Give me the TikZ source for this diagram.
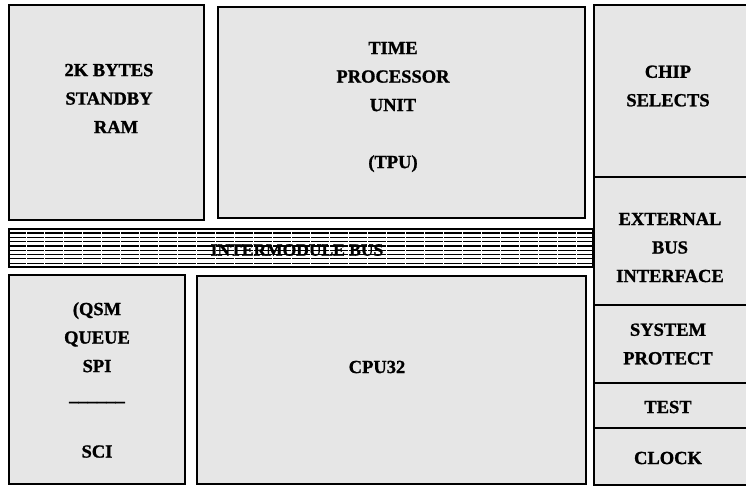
\documentclass[tikz,border=0pt]{standalone}
\usepackage{fontspec}
\setmainfont{Liberation Serif}[BoldFont={Liberation Serif Bold},BoldFeatures={FakeBold=1.2}]
\usepackage{tikz}
\usetikzlibrary{positioning}
\usetikzlibrary{calc}

\definecolor{blkgray}{RGB}{230,230,230}

\tikzset{
  blk/.style={draw=black,line width=2pt,fill=blkgray,inner sep=0pt},
  lbl/.style={align=center,inner sep=0pt,
    font=\bfseries\fontsize{18.5}{28.5}\selectfont}
}

\begin{document}
\begin{tikzpicture}[x=1pt,y=-1pt]
          \useasboundingbox (0,0) rectangle (746,487);
          % blocks
          \node[blk,minimum width=195pt,minimum height=215pt] (ram) at (106.5,112.5) {};
          \node[blk,minimum width=367pt,minimum height=211pt] (tpu) at (401.5,112.5) {};
          \node[blk,minimum width=160pt,minimum height=172pt] (csel) at (674,91) {};
          \node[blk,minimum width=160pt,minimum height=128pt] (ebi) at (674,241) {};
          \node[blk,minimum width=160pt,minimum height=78pt] (sysp) at (674,344) {};
          \node[blk,minimum width=160pt,minimum height=45pt] (tst) at (674,405.5) {};
          \node[blk,minimum width=160pt,minimum height=57pt] (clk) at (674,456.5) {};
          \node[blk,minimum width=176pt,minimum height=209pt] (qsm) at (97,379.5) {};
          \node[blk,minimum width=389pt,minimum height=208pt] (cpu) at (391.5,380) {};
          % bus
          \node[blk,fill=white,minimum width=584pt,minimum height=38pt] (bus) at (301,248) {};
          \foreach \y in {233,237.3,241.6,245.9,250.2,254.5,258.8,263.1}
            \draw[line width=1.2pt] (10,\y) -- (592,\y);
          \foreach \k in {0,...,29}
            \draw[white,line width=1pt] (26+18.97*\k,230.5) -- (26+18.97*\k,265.5);
          % texts
          \begin{scope}[every node/.style={lbl}]
            \node (ramtxt) at (109,98.5) {2K BYTES\\STANDBY\\\hspace*{14pt}RAM};
            \node (tputxt) at (393,107) {TIME\\PROCESSOR\\UNIT\\[28.5pt](TPU)};
            \node (cseltxt) at (668,86) {CHIP\\SELECTS};
            \node (ebitxt) at (670,247.5) {EXTERNAL\\BUS\\INTERFACE};
            \node (syseptxt) at (668,344) {SYSTEM\\PROTECT};
            \node (tsttxt) at (668,407) {TEST};
            \node (clktxt) at (668,458) {CLOCK};
            \node (qsmtxt) at (97,380) {(QSM\\QUEUE\\SPI\\\_\_\_\_\_\_\\[28.5pt]SCI};
            \node (cputxt) at (377,367) {CPU32};
            \node[font=\bfseries\fontsize{17.5}{20}\selectfont] (bustxt) at (297,250) {INTERMODULE BUS};
          \end{scope}
        \end{tikzpicture}
\end{document}
